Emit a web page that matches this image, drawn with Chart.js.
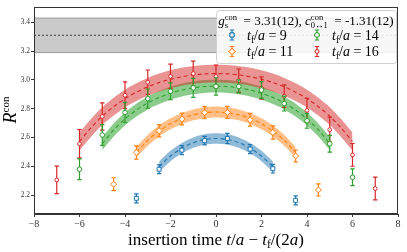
<!DOCTYPE html>
<html>
<head>
<meta charset="utf-8">
<script src="https://cdn.jsdelivr.net/npm/chart.js@4.4.1/dist/chart.umd.min.js"></script>
<style>
  html, body { margin: 0; padding: 0; background: #fff; }
</style>
</head>
<body>
<canvas id="myChart" width="407" height="252"></canvas>
<script>
const xTicks = [-8, -6, -4, -2, 0, 2, 4, 6, 8];
const yTicks = [2.2, 2.4, 2.6, 2.8, 3.0, 3.2, 3.4];

// plateau g_s^con = 3.31(12)
const gsRange = [-8, 8];
const gsMid = 3.31;
const gsErr = 0.12;

// data points: insertion time vs R^con
const t9 = [-3.5, -2.5, -1.5, -0.5, 0.5, 1.5, 2.5, 3.5];
const r9 = [2.177, 2.379, 2.512, 2.578, 2.593, 2.519, 2.383, 2.163];
const e9 = [0.031, 0.031, 0.031, 0.029, 0.035, 0.031, 0.030, 0.031];

const t11 = [-4.5, -3.5, -2.5, -1.5, -0.5, 0.5, 1.5, 2.5, 3.5, 4.5];
const r11 = [2.275, 2.495, 2.647, 2.728, 2.772, 2.774, 2.723, 2.635, 2.472, 2.235];
const e11 = [0.045, 0.046, 0.043, 0.041, 0.042, 0.042, 0.044, 0.046, 0.041, 0.042];

const t14 = [-6, -5, -4, -3, -2, -1, 0, 1, 2, 3, 4, 5, 6];
const r14 = [2.379, 2.617, 2.774, 2.870, 2.921, 2.945, 2.955, 2.955, 2.930, 2.836, 2.716, 2.556, 2.323];
const e14 = [0.072, 0.072, 0.070, 0.067, 0.058, 0.066, 0.060, 0.046, 0.058, 0.052, 0.052, 0.058, 0.058];

const t16 = [-7, -6, -5, -4, -3, -2, -1, 0, 1, 2, 3, 4, 5, 6, 7];
const r16 = [2.305, 2.556, 2.746, 2.893, 2.984, 3.025, 3.044, 3.025, 2.995, 2.944, 2.887, 2.788, 2.654, 2.479, 2.245];
const e16 = [0.096, 0.098, 0.095, 0.093, 0.085, 0.085, 0.087, 0.078, 0.081, 0.077, 0.078, 0.084, 0.087, 0.079, 0.079];

// fit bands (central value, half width)
const fx9 = [-2.5, -2, -1.5, -1, -0.5, 0, 0.5, 1, 1.5, 2, 2.5];
const fit9 = [2.397, 2.471, 2.526, 2.564, 2.586, 2.593, 2.586, 2.564, 2.526, 2.471, 2.397];
const fw9 = 0.036;

const fx11 = [-3.5, -3, -2.5, -2, -1.5, -1, -0.5, 0, 0.5, 1, 1.5, 2, 2.5, 3, 3.5];
const fit11 = [2.497, 2.580, 2.645, 2.695, 2.732, 2.757, 2.772, 2.777, 2.772, 2.757, 2.732, 2.695, 2.645, 2.580, 2.497];
const fw11 = 0.038;

const fx14 = [-5, -4.5, -4, -3.5, -3, -2.5, -2, -1.5, -1, -0.5, 0, 0.5, 1, 1.5, 2, 2.5, 3, 3.5, 4, 4.5, 5];
const fit14 = [2.557, 2.652, 2.729, 2.790, 2.840, 2.878, 2.908, 2.930, 2.945, 2.954, 2.957, 2.954, 2.945, 2.930, 2.908, 2.878, 2.840, 2.790, 2.729, 2.652, 2.557];
const fw14 = 0.045;

const fx16 = [-6, -5.5, -5, -4.5, -4, -3.5, -3, -2.5, -2, -1.5, -1, -0.5, 0, 0.5, 1, 1.5, 2, 2.5, 3, 3.5, 4, 4.5, 5, 5.5, 6];
const fit16 = [2.572, 2.666, 2.748, 2.814, 2.870, 2.915, 2.952, 2.982, 3.005, 3.022, 3.035, 3.042, 3.044, 3.042, 3.035, 3.022, 3.005, 2.982, 2.952, 2.915, 2.870, 2.814, 2.748, 2.666, 2.572];
const fw16 = 0.062;

const SERIF = '"Liberation Serif", "DejaVu Serif", serif';
const pts = (xs, ys) => xs.map((x, i) => ({ x: x, y: ys[i] }));

function bandSets(xs, mid, w, color, fillColor, order) {
  return [
    { data: pts(xs, mid.map(v => v - w)), borderWidth: 0, pointRadius: 0, fill: false, tension: 0.3, order: order },
    { data: pts(xs, mid.map(v => v + w)), borderWidth: 0, pointRadius: 0, fill: '-1', backgroundColor: fillColor, tension: 0.3, order: order },
    { data: pts(xs, mid), borderColor: color, borderWidth: 1.1, borderDash: [4, 3], pointRadius: 0, fill: false, tension: 0.3, order: order - 20 },
  ];
}

function pointSet(xs, ys, errs, color, style, radius) {
  return {
    data: pts(xs, ys), errors: errs, showLine: false,
    borderColor: color, backgroundColor: '#fff', pointStyle: style,
    pointRadius: radius, pointBorderWidth: 1, order: 1,
  };
}

const datasets = [
  { data: pts(gsRange, gsRange.map(() => gsMid - gsErr)), borderColor: '#9a9a9a', borderWidth: 1, pointRadius: 0, fill: false, order: 100 },
  { data: pts(gsRange, gsRange.map(() => gsMid + gsErr)), borderColor: '#9a9a9a', borderWidth: 1, pointRadius: 0, fill: '-1', backgroundColor: 'rgba(128,128,128,0.42)', order: 100 },
  { data: pts(gsRange, gsRange.map(() => gsMid)), borderColor: '#555', borderWidth: 1.2, borderDash: [2, 2], pointRadius: 0, fill: false, order: 99 },
  ...bandSets(fx9, fit9, fw9, '#1f77b4', 'rgba(31,119,180,0.5)', 53),
  ...bandSets(fx11, fit11, fw11, '#ff7f0e', 'rgba(255,127,14,0.5)', 52),
  ...bandSets(fx14, fit14, fw14, '#2ca02c', 'rgba(44,160,44,0.55)', 51),
  ...bandSets(fx16, fit16, fw16, '#d62728', 'rgba(214,39,40,0.5)', 50),
  pointSet(t9, r9, e9, '#1f77b4', 'rect', 2.8),
  pointSet(t11, r11, e11, '#ff7f0e', 'rectRot', 3),
  pointSet(t14, r14, e14, '#2ca02c', 'circle', 2.3),
  pointSet(t16, r16, e16, '#d62728', 'circle', 1.9),
];

function drawRich(ctx, parts, x, y, align) {
  const font = p => (p.i ? 'italic ' : '') + p.s + 'px ' + SERIF;
  let cx = 0, lastX = 0, lastW = 0;
  const placed = parts.map(p => {
    ctx.font = font(p);
    const w = ctx.measureText(p.t).width;
    let px;
    if (p.stack) {
      px = lastX;
      lastW = Math.max(lastW, w);
      cx = lastX + lastW;
    } else {
      px = cx; lastX = cx; lastW = w; cx += w;
    }
    return { p: p, px: px };
  });
  const start = align === 'center' ? x - cx / 2 : x;
  ctx.textAlign = 'left';
  ctx.textBaseline = 'alphabetic';
  placed.forEach(o => {
    ctx.font = font(o.p);
    ctx.fillText(o.p.t, start + o.px, y + (o.p.dy || 0));
  });
}

function errMarker(ctx, x, y, half, color, style, radius) {
  ctx.strokeStyle = color;
  ctx.lineWidth = 1.2;
  ctx.beginPath();
  ctx.moveTo(x, y - half); ctx.lineTo(x, y + half);
  ctx.moveTo(x - 2.2, y - half); ctx.lineTo(x + 2.2, y - half);
  ctx.moveTo(x - 2.2, y + half); ctx.lineTo(x + 2.2, y + half);
  ctx.stroke();
  ctx.fillStyle = '#fff';
  ctx.lineWidth = 1;
  Chart.helpers.drawPoint(ctx, { pointStyle: style, radius: radius, borderWidth: 1 }, x, y);
  ctx.fill();
  ctx.stroke();
}

const decorations = {
  id: 'decorations',
  beforeDatasetDraw(chart, args) {
    const ds = chart.data.datasets[args.index];
    if (!ds.errors) return;
    const xs = chart.scales.x, ys = chart.scales.y, ctx = chart.ctx;
    ctx.save();
    ctx.strokeStyle = ds.borderColor;
    ctx.lineWidth = 1.2;
    ctx.beginPath();
    ds.data.forEach((p, i) => {
      const px = xs.getPixelForValue(p.x);
      const top = ys.getPixelForValue(p.y + ds.errors[i]);
      const bot = ys.getPixelForValue(p.y - ds.errors[i]);
      ctx.moveTo(px, top); ctx.lineTo(px, bot);
      ctx.moveTo(px - 2.2, top); ctx.lineTo(px + 2.2, top);
      ctx.moveTo(px - 2.2, bot); ctx.lineTo(px + 2.2, bot);
    });
    ctx.stroke();
    ctx.restore();
  },
  afterDraw(chart) {
    const ctx = chart.ctx, a = chart.chartArea;
    ctx.save();
    // frame
    ctx.strokeStyle = '#333';
    ctx.lineWidth = 1;
    ctx.strokeRect(a.left + 0.5, a.top + 0.5, a.right - a.left - 1, a.bottom - a.top - 1);

    // axis titles
    ctx.fillStyle = '#000';
    drawRich(ctx, [
      { t: 'insertion time ', s: 17 }, { t: 't', s: 17, i: true }, { t: '/', s: 17 },
      { t: 'a', s: 17, i: true }, { t: ' \u2212 ', s: 17 }, { t: 't', s: 17, i: true },
      { t: 'f', s: 11.5, dy: 3 }, { t: '/(2', s: 17 }, { t: 'a', s: 17, i: true }, { t: ')', s: 17 },
    ], (a.left + a.right) / 2, 245, 'center');

    ctx.save();
    ctx.translate(15.5, 110);
    ctx.rotate(-Math.PI / 2);
    drawRich(ctx, [{ t: 'R', s: 18, i: true }, { t: 'con', s: 11, dy: -7 }], 0, 0, 'center');
    ctx.restore();

    // legend
    const bx = 216, by = 10, bw = 180, bh = 53;
    ctx.beginPath();
    ctx.roundRect(bx + 0.5, by + 0.5, bw, bh, 3);
    ctx.fillStyle = 'rgba(255,255,255,0.85)';
    ctx.fill();
    ctx.strokeStyle = '#d0d0d0';
    ctx.stroke();

    ctx.fillStyle = '#000';
    drawRich(ctx, [
      { t: 'g', s: 13, i: true }, { t: 'con', s: 8.5, dy: -5 }, { t: 's', s: 8.5, dy: 3, stack: true },
      { t: '  = 3.31(12), ', s: 13 },
      { t: 'c', s: 13, i: true }, { t: 'con', s: 8.5, dy: -5 }, { t: '0\u21941', s: 8.5, dy: 3, stack: true },
      { t: '  = -1.31(12)', s: 13 },
    ], bx + bw / 2, 25, 'center');

    const rows = [
      { x: 232, y: 35, tf: '9', c: '#1f77b4', st: 'rect', r: 2.8 },
      { x: 317, y: 35, tf: '14', c: '#2ca02c', st: 'circle', r: 2.3 },
      { x: 232, y: 51.5, tf: '11', c: '#ff7f0e', st: 'rectRot', r: 3 },
      { x: 317, y: 51.5, tf: '16', c: '#d62728', st: 'circle', r: 1.9 },
    ];
    rows.forEach(r => {
      errMarker(ctx, r.x, r.y, 5, r.c, r.st, r.r);
      ctx.fillStyle = '#000';
      drawRich(ctx, [
        { t: 't', s: 14, i: true }, { t: 'f', s: 9.5, dy: 3 }, { t: '/', s: 14 },
        { t: 'a', s: 14, i: true }, { t: ' = ' + r.tf, s: 14 },
      ], r.x + 15, r.y + 4.5, 'left');
    });
    ctx.restore();
  },
};

const ctx = document.getElementById('myChart').getContext('2d');
new Chart(ctx, {
  type: 'line',
  data: { datasets: datasets },
  plugins: [decorations],
  options: {
    responsive: false,
    animation: false,
    devicePixelRatio: 1,
    layout: { padding: { left: 0, top: 7, right: 9, bottom: 0 } },
    plugins: { legend: { display: false }, tooltip: { enabled: false } },
    elements: { line: { borderJoinStyle: 'round' } },
    scales: {
      x: {
        type: 'linear', min: -8, max: 8,
        afterBuildTicks: axis => { axis.ticks = xTicks.map(v => ({ value: v })); },
        afterFit: axis => { axis.height = 38; },
        grid: { display: true, drawOnChartArea: false, tickLength: 3, color: '#333' },
        border: { color: '#333', width: 1 },
        ticks: {
          color: '#333', padding: 1, maxRotation: 0,
          font: { family: SERIF, size: 10 },
          callback: v => (v < 0 ? '\u2212' + Math.abs(v) : String(v)),
        },
      },
      y: {
        type: 'linear', min: 2.068, max: 3.507,
        afterBuildTicks: axis => { axis.ticks = yTicks.map(v => ({ value: v })); },
        afterFit: axis => { axis.width = 34; },
        grid: { display: true, drawOnChartArea: false, tickLength: 3, color: '#333' },
        border: { color: '#333', width: 1 },
        ticks: {
          color: '#333', padding: 1,
          font: { family: SERIF, size: 7.5 },
          callback: v => v.toFixed(1),
        },
      },
    },
  },
});
</script>
</body>
</html>
